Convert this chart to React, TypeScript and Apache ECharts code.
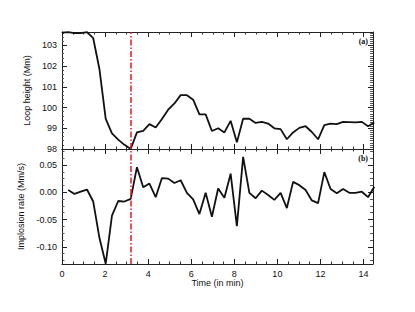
import { useEffect, useRef } from "react";
import * as echarts from "echarts";

// Time (min) of each sample
const TIMES = [
  0, 0.29, 0.58, 0.87, 1.16, 1.45, 1.74, 2.03, 2.32, 2.61, 2.9, 3.19, 3.48, 3.77, 4.06, 4.35, 4.64,
  4.93, 5.22, 5.51, 5.8, 6.09, 6.38, 6.67, 6.96, 7.25, 7.54, 7.83, 8.12, 8.41, 8.7, 8.99, 9.28,
  9.57, 9.86, 10.15, 10.44, 10.73, 11.02, 11.31, 11.6, 11.89, 12.18, 12.47, 12.76, 13.05, 13.34,
  13.63, 13.92, 14.21, 14.5,
];

// (a) Loop height (Mm)
const HEIGHT = [
  103.62, 103.64, 103.6, 103.6, 103.64, 103.35, 101.85, 99.45, 98.75, 98.45, 98.2, 98.0, 98.8,
  98.88, 99.2, 99.04, 99.45, 99.9, 100.2, 100.6, 100.6, 100.38, 99.67, 99.67, 98.87, 99.0, 98.8,
  99.36, 98.32, 99.46, 99.46, 99.26, 99.31, 99.23, 99.0, 98.96, 98.47, 98.8, 99.02, 99.1, 98.82,
  98.47, 99.15, 99.23, 99.2, 99.31, 99.3, 99.29, 99.31, 99.1, 99.28,
];

// (b) Implosion rate (Mm/s), from the second sample on
const RATE = [
  0.004, -0.003, 0.001, 0.005, -0.017, -0.084, -0.131, -0.043, -0.016, -0.017, -0.012, 0.046,
  0.009, 0.016, -0.009, 0.026, 0.025, 0.017, 0.022, -0.001, -0.013, -0.04, -0.001, -0.045, 0.007,
  -0.01, 0.034, -0.062, 0.065, -0.001, -0.011, 0.003, -0.005, -0.014, -0.001, -0.029, 0.019,
  0.013, 0.004, -0.015, -0.02, 0.037, 0.006, -0.002, 0.006, -0.001, -0.001, 0.001, -0.009, 0.01,
];

const EVENT_TIME = 3.2;
const X_MIN = 0;
const X_MAX = 14.44;
const H_MIN = 98;
const H_MAX = 103.65;
const R_MIN = -0.1315;
const R_MAX = 0.0793;

const FONT = "Liberation Sans";
const FRAME = { show: true, onZero: false, lineStyle: { color: "#222", width: 1 } };

export default function App() {
  const ref = useRef<HTMLDivElement>(null);
  useEffect(() => {
    if (!ref.current) return;
    const chart = echarts.init(ref.current, null, { renderer: "svg" });

    const heightData = TIMES.map((t, i) => [t, HEIGHT[i]]);
    const rateData = RATE.map((v, i) => [TIMES[i + 1], v]);

    const xBase = (grid: number, position: "top" | "bottom", labels: boolean) => ({
      type: "value",
      gridIndex: grid,
      position,
      min: X_MIN,
      max: X_MAX,
      interval: 2,
      axisLine: FRAME,
      axisTick: { show: true, inside: true, length: 5, lineStyle: { color: "#222" } },
      minorTick: { show: true, splitNumber: 4, length: 2.5, lineStyle: { color: "#333" } },
      splitLine: { show: false },
      minorSplitLine: { show: false },
      axisLabel: {
        show: labels,
        showMaxLabel: false,
        fontSize: 9,
        color: "#111",
        fontFamily: FONT,
        margin: 5,
      },
    });

    const markLine = {
      silent: true,
      symbol: ["none", "none"],
      label: { show: false },
      lineStyle: { color: "#e41a1c", width: 1.5, type: [6, 2, 1.5, 2] },
      data: [{ xAxis: EVENT_TIME }],
    };

    const option = {
      animation: false,
      backgroundColor: "#fff",
      grid: [
        { left: 62, right: 42, top: 32, height: 117 },
        { left: 62, right: 42, top: 149, height: 115 },
      ],
      xAxis: [
        xBase(0, "bottom", false),
        xBase(0, "top", false),
        {
          ...xBase(1, "bottom", true),
          name: "Time (in min)",
          nameLocation: "middle",
          nameGap: 14,
          nameTextStyle: { fontSize: 9, color: "#111", fontFamily: FONT },
        },
        xBase(1, "top", false),
      ],
      yAxis: [
        {
          type: "value",
          gridIndex: 0,
          position: "left",
          min: H_MIN,
          max: H_MAX,
          interval: 1,
          axisLine: FRAME,
          axisTick: { show: true, inside: true, length: 5, lineStyle: { color: "#222" } },
          minorTick: { show: true, splitNumber: 5, length: 2, lineStyle: { color: "#555" } },
          splitLine: { show: false },
          axisLabel: { showMaxLabel: false, fontSize: 9, color: "#111", fontFamily: FONT, margin: 5 },
          name: "Loop height (Mm)",
          nameLocation: "middle",
          nameRotate: 90,
          nameGap: 20,
          nameTextStyle: { fontSize: 9, color: "#111", fontFamily: FONT },
        },
        {
          type: "value",
          gridIndex: 0,
          position: "right",
          min: H_MIN,
          max: H_MAX,
          interval: 1,
          axisLine: FRAME,
          axisTick: { show: true, inside: true, length: 5, lineStyle: { color: "#222" } },
          minorTick: { show: true, splitNumber: 10, length: 3, lineStyle: { color: "#555" } },
          splitLine: { show: false },
          axisLabel: { show: false },
        },
        {
          type: "value",
          gridIndex: 1,
          position: "left",
          min: R_MIN,
          max: R_MAX,
          splitNumber: 4,
          axisLine: FRAME,
          axisTick: { show: true, inside: true, length: 5, lineStyle: { color: "#222" } },
          minorTick: { show: true, splitNumber: 4, length: 2.5, lineStyle: { color: "#555" } },
          splitLine: { show: false },
          axisLabel: {
            showMinLabel: false,
            showMaxLabel: false,
            fontSize: 9,
            color: "#111",
            fontFamily: FONT,
            margin: 5,
            formatter: (v: number) => v.toFixed(2),
          },
          name: "Implosion rate (Mm/s)",
          nameLocation: "middle",
          nameRotate: 90,
          nameGap: 27,
          nameTextStyle: { fontSize: 9, color: "#111", fontFamily: FONT },
        },
        {
          type: "value",
          gridIndex: 1,
          position: "right",
          min: R_MIN,
          max: R_MAX,
          splitNumber: 4,
          axisLine: FRAME,
          axisTick: { show: true, inside: true, length: 5, lineStyle: { color: "#222" } },
          minorTick: { show: true, splitNumber: 4, length: 3, lineStyle: { color: "#555" } },
          splitLine: { show: false },
          axisLabel: { show: false },
        },
      ],
      graphic: [
        {
          type: "text",
          x: 368,
          y: 41,
          style: {
            text: "(a)",
            textAlign: "right",
            textVerticalAlign: "middle",
            font: 'bold 8px "Liberation Serif"',
            fill: "#111",
          },
        },
        {
          type: "text",
          x: 368,
          y: 158,
          style: {
            text: "(b)",
            textAlign: "right",
            textVerticalAlign: "middle",
            font: 'bold 8px "Liberation Serif"',
            fill: "#111",
          },
        },
      ],
      series: [
        {
          type: "line",
          xAxisIndex: 0,
          yAxisIndex: 0,
          data: heightData,
          symbol: "none",
          clip: true,
          lineStyle: { color: "#111", width: 1.8 },
          markLine,
        },
        {
          type: "line",
          xAxisIndex: 2,
          yAxisIndex: 2,
          data: rateData,
          symbol: "none",
          clip: true,
          lineStyle: { color: "#111", width: 1.8 },
          markLine,
        },
      ],
    };

    chart.setOption(option as any);
    return () => chart.dispose();
  }, []);

  return (
    <div
      ref={ref}
      style={{ position: "absolute", left: 0, top: 0, width: 415, height: 312, background: "#fff" }}
    />
  );
}
